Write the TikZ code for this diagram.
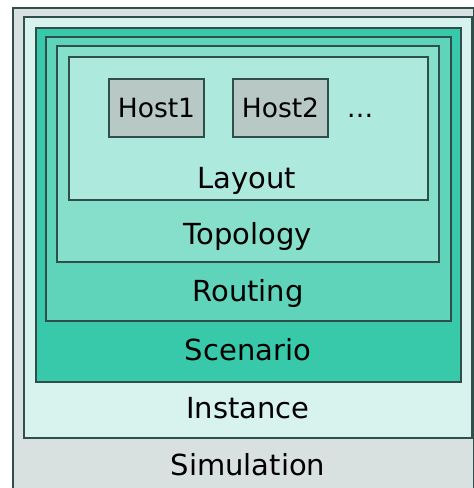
\documentclass[tikz,border=0pt]{standalone}
\usepackage{fontspec}
\setmainfont{DejaVu Sans}
\definecolor{simfill}{HTML}{D9E1E0}
\definecolor{instfill}{HTML}{D8F3EE}
\definecolor{scenfill}{HTML}{38C9AA}
\definecolor{routfill}{HTML}{5FD4BB}
\definecolor{topofill}{HTML}{86DFCB}
\definecolor{layfill}{HTML}{AEE9DD}
\definecolor{hostfill}{HTML}{B8C8C4}
\definecolor{edge}{HTML}{2F4F4A}
\begin{document}
\begin{tikzpicture}[x=1pt,y=-1pt,
  layer/.style={draw=edge, line width=1.1pt},
  lbl/.style={anchor=base, inner sep=0pt, font=\fontsize{29}{34}\selectfont},
  hostlbl/.style={anchor=base, inner sep=0pt, font=\fontsize{26.5}{31}\selectfont},
  hostbox/.style={draw=edge, line width=1.1pt, fill=hostfill}]
\useasboundingbox (0,0) rectangle (474,488);
\fill[white] (0,0) rectangle (474,488);
\draw[layer, fill=simfill] (13,8) rectangle (473.5,500);
\draw[layer, fill=instfill] (24,17) rectangle (472,438);
\draw[layer, fill=scenfill] (36,28) rectangle (461,382);
\draw[layer, fill=routfill] (46,37) rectangle (451,321);
\draw[layer, fill=topofill] (57,46) rectangle (439,262);
\draw[layer, fill=layfill] (69,57) rectangle (428,200);
\draw[hostbox] (109,79) rectangle (204,137);
\draw[hostbox] (233,79) rectangle (328,137);
\node[hostlbl] (host1) at (156.5,117.5) {Host1};
\node[hostlbl] (host2) at (280.5,117.5) {Host2};
\node[hostlbl] (dots) at (360,117.5) {…};
\node[lbl] (layout) at (247,188) {Layout};
\node[lbl] (topology) at (248,244) {Topology};
\node[lbl] (routing) at (248,301) {Routing};
\node[lbl] (scenario) at (248,360) {Scenario};
\node[lbl] (instance) at (248,418) {Instance};
\node[lbl] (simulation) at (248,475) {Simulation};
\end{tikzpicture}
\end{document}
